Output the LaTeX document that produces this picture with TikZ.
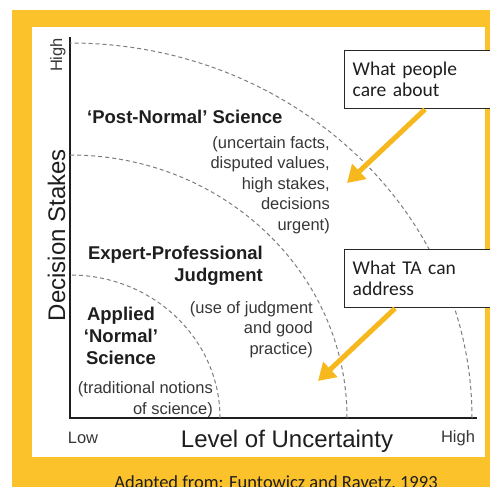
\documentclass[tikz,border=0pt]{standalone}
\usepackage{fontspec}
\setmainfont{Liberation Sans}
\newfontfamily\calfont{Carlito}
\usetikzlibrary{arrows.meta}
\definecolor{frameyellow}{RGB}{252,194,44}
\definecolor{arrowyellow}{RGB}{247,184,30}
\definecolor{arcgray}{RGB}{125,125,125}
\definecolor{txtdark}{RGB}{30,30,30}
\definecolor{txtgray}{RGB}{55,55,55}
\definecolor{boxline}{RGB}{40,40,40}
\tikzset{
  arcline/.style={draw=arcgray, line width=1pt, dash pattern=on 4pt off 3pt},
  axisline/.style={draw=txtdark, line width=2pt},
  boldlabel/.style={font=\fontsize{18.5}{21.7}\selectfont\bfseries, text=txtdark, inner sep=0pt},
  smalllabel/.style={font=\fontsize{16.5}{20.5}\selectfont, text=txtgray, inner sep=0pt},
  biglabel/.style={font=\fontsize{24}{28}\selectfont, text=txtdark, inner sep=0pt},
  callout/.style={draw=boxline, line width=1.4pt, fill=white, anchor=north west,
    font=\calfont\fontsize{19.5}{21}\selectfont, text=txtdark, align=left,
    text width=140pt, inner xsep=8pt, inner ysep=0pt, minimum height=58pt},
  yellowarrow/.style={draw=arrowyellow, line width=5pt,
    -{Triangle[length=17pt,width=20pt]}}
}
\begin{document}
\begin{tikzpicture}[x=1pt,y=-1pt]
\useasboundingbox (0,0) rectangle (490,487);
\clip (0,0) rectangle (490,487);
% frame
\fill[frameyellow] (12,10) rectangle (500,500);
\fill[white] (32,27) rectangle (485,457);
% axes
\coordinate (O) at (70,418);
\coordinate (ytop) at (70,37);
\coordinate (xend) at (477,418);
\draw[axisline] (ytop) -- (O) -- (xend);
% arcs
\draw[arcline] (O) ++(402,0) arc[start angle=0, end angle=90, x radius=402pt, y radius=375pt];
\draw[arcline] (O) ++(277,0) arc[start angle=0, end angle=90, x radius=277pt, y radius=263pt];
\draw[arcline] (O) ++(150,0) arc[start angle=0, end angle=90, x radius=150pt, y radius=143pt];
% axis labels
\node[smalllabel, rotate=90, anchor=base] (yhigh) at (62,55) {High};
\node[biglabel, rotate=90, anchor=base] (ylabel) at (65,235) {Decision Stakes};
\node[smalllabel, anchor=base] (xlow) at (83,443) {Low};
\node[smalllabel, anchor=base] (xhigh) at (458,442) {High};
\node[biglabel, anchor=base] (xlabel) at (287,447) {Level of Uncertainty};
% region labels (base anchor = baseline of last line)
\node[boldlabel, anchor=base west] (pns) at (87,123) {`Post-Normal' Science};
\node[smalllabel, anchor=base east, align=right] (pnsd) at (330,230)
  {(uncertain facts,\\disputed values,\\high stakes,\\decisions\\urgent)};
\node[boldlabel, anchor=base east, align=right] (epj) at (263,281)
  {Expert-Professional\\Judgment};
\node[smalllabel, anchor=base east, align=right] (epjd) at (313,354)
  {(use of judgment\\and good\\practice)};
\node[boldlabel, anchor=base, align=center] (ans) at (121,364)
  {Applied\\`Normal'\\Science};
\node[smalllabel, anchor=base east, align=right] (ansd) at (213,414)
  {(traditional notions\\of science)};
% callouts
\node[callout] (box1) at (344,50) {What people\\care about};
\node[callout] (box2) at (344,249) {What TA can\\address};
\coordinate (tip1) at (347,183);
\coordinate (tip2) at (318,381);
\draw[yellowarrow] ([xshift=81pt]box1.south west) -- (tip1);
\draw[yellowarrow] ([xshift=51pt]box2.south west) -- (tip2);
% caption
\node[font=\calfont\fontsize{18.5}{22}\selectfont, text=txtdark, anchor=base, inner sep=0pt] (caption) at (276,488)
  {Adapted from: Funtowicz and Ravetz, 1993};
\end{tikzpicture}
\end{document}
